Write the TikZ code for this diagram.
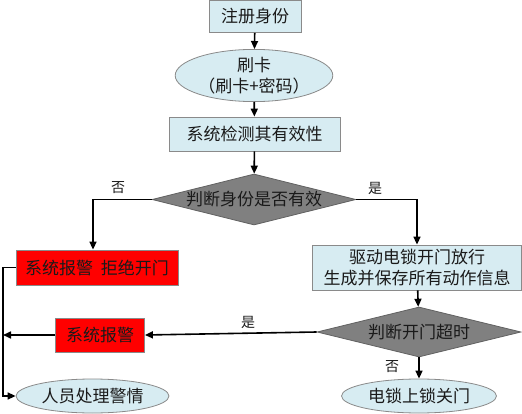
\documentclass[tikz,border=0pt]{standalone}
\usepackage{fontspec}
\usepackage{tikz}
\usetikzlibrary{arrows.meta,positioning,calc,shapes.geometric}
\newfontfamily\cjk{Noto Sans CJK SC}
\definecolor{fcBlue}{HTML}{D7ECF2}
\definecolor{fcEdge}{HTML}{8A8A8A}
\definecolor{fcGray}{HTML}{808080}
\definecolor{fcRed}{HTML}{FF0000}
\definecolor{fcText}{HTML}{1A1A1A}

\begin{document}
\begin{tikzpicture}[
    x=1pt, y=-1pt, >={Triangle[length=8pt,width=7pt]},
    every node/.style={font=\cjk\fontsize{17}{21}\selectfont, text=fcText, inner sep=0pt},
    box/.style={rectangle, draw=fcEdge, line width=0.8pt, fill=fcBlue, align=center},
    alarm/.style={box, fill=fcRed},
    oval/.style={ellipse, draw=fcEdge, line width=0.8pt, fill=fcBlue, align=center},
    test/.style={diamond, draw=fcEdge!70!black, line width=0.8pt, fill=fcGray, aspect=4},
    lab/.style={font=\cjk\fontsize{14}{16}\selectfont},
    flow/.style={->, draw=black, line width=1.6pt},
    wire/.style={draw=black, line width=1.6pt},
  ]
  \useasboundingbox (0,0) rectangle (522,414);
  \node[box, minimum width=92pt, minimum height=32pt] (reg) at (255,16.5) {注册身份};
  \node[oval, minimum width=143pt, minimum height=47pt] (card) at (254,75.5) {刷卡\\（刷卡+密码）};
  \node[box, minimum width=171pt, minimum height=34pt] (check) at (254.5,134) {系统检测其有效性};
  \node[test, minimum width=204pt, minimum height=51pt] (valid) at (254,199.5) {判断身份是否有效};
  \node[alarm, minimum width=162pt, minimum height=35pt] (reject) at (97,267.5) {系统报警\ \ 拒绝开门};
  \node[box, minimum width=209pt, minimum height=45pt] (open) at (417,267.5) {驱动电锁开门放行\\生成并保存所有动作信息};
  \node[test, minimum width=204pt, minimum height=50pt] (late) at (419,332) {判断开门超时};
  \node[alarm, minimum width=89pt, minimum height=34pt] (warn) at (100,335) {系统报警};
  \node[oval, minimum width=153pt, minimum height=34pt] (handle) at (92.5,396) {人员处理警情};
  \node[oval, minimum width=155pt, minimum height=34pt] (lock) at (419,396) {电锁上锁关门};
  \coordinate (bus) at (3,268);
  \node[lab] (no1) at (118,188) {否};
  \node[lab] (yes1) at (375,188) {是};
  \node[lab] (yes2) at (248,322) {是};
  \node[lab] (no2) at (392,367) {否};
  \draw[flow] (reg) -- (card);
  \draw[flow] (card) -- (check);
  \draw[flow] (check) -- (valid);
  \draw[flow] (valid.west) -| ([xshift=-4pt]reject.north);
  \draw[flow] (valid.east) -| (open.north);
  \draw[flow] (open) -- (late);
  \draw[flow] (late) -- (lock);
  \draw[flow] (late.west) -- (warn.east);
  % left bus down to the alarm handling
  \draw[flow] (reject.west) -- (reject.west -| bus) -- (bus |- handle.west) -- (handle.west);
  \draw[flow] (warn.west) -- (warn.west -| bus);
\end{tikzpicture}
\end{document}
